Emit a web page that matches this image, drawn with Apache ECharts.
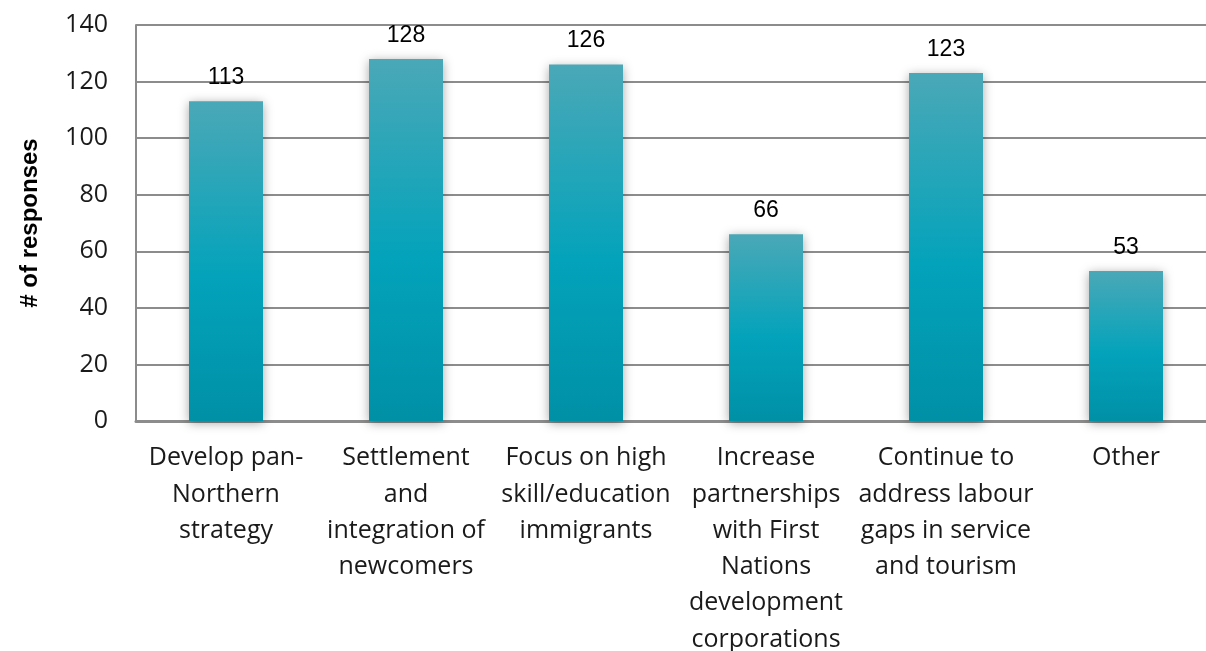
<!DOCTYPE html>
<html>
<head>
<meta charset="utf-8">
<script src="https://cdn.jsdelivr.net/npm/echarts@6/dist/echarts.min.js"></script>
<style>
  html, body { margin: 0; padding: 0; background: #ffffff; }
  #chart { width: 1206px; height: 651px; }
</style>
</head>
<body>
<div id="chart"></div>
<script>
// Survey answers: suggested priorities, counted by number of responses
const categories = [
  'Develop pan-\nNorthern\nstrategy',
  'Settlement\nand\nintegration of\nnewcomers',
  'Focus on high\nskill/education\nimmigrants',
  'Increase\npartnerships\nwith First\nNations\ndevelopment\ncorporations',
  'Continue to\naddress labour\ngaps in service\nand tourism',
  'Other'
];
const responses = [113, 128, 126, 66, 123, 53];
const yTicks = { min: 0, max: 140, interval: 20 };
const yAxisTitle = '# of responses';

const chart = echarts.init(document.getElementById('chart'));

const barFill = new echarts.graphic.LinearGradient(0, 0, 0, 1, [
  { offset: 0, color: '#4aa8b7' },
  { offset: 0.55, color: '#03a3bb' },
  { offset: 1, color: '#0090a6' }
]);

chart.setOption({
  animation: false,
  grid: {
    left: 136, top: 25, bottom: 230, right: -10,
    containLabel: false,
    outerBoundsMode: 'none'
  },
  xAxis: {
    type: 'category',
    data: categories,
    axisTick: { show: false },
    axisLine: { show: true, lineStyle: { color: '#8c8c8c', width: 3 } },
    axisLabel: {
      interval: 0,
      margin: 19,
      color: '#1a1a1a',
      fontFamily: 'Open Sans',
      fontSize: 25,
      lineHeight: 36.3
    }
  },
  yAxis: {
    type: 'value',
    min: yTicks.min,
    max: yTicks.max,
    interval: yTicks.interval,
    name: yAxisTitle,
    nameLocation: 'middle',
    nameGap: 94,
    nameRotate: 90,
    nameTextStyle: {
      color: '#000000',
      fontFamily: 'Liberation Sans',
      fontWeight: 'bold',
      fontSize: 24
    },
    axisLine: { show: true, lineStyle: { color: '#8c8c8c', width: 2 } },
    axisTick: { show: false },
    splitLine: { show: true, lineStyle: { color: '#8c8c8c', width: 2 } },
    axisLabel: {
      margin: 28,
      color: '#1a1a1a',
      fontFamily: 'Open Sans',
      fontSize: 25
    }
  },
  series: [{
    type: 'bar',
    data: responses,
    barWidth: 74,
    itemStyle: {
      color: barFill,
      shadowColor: 'rgba(0,0,0,0.35)',
      shadowBlur: 10,
      shadowOffsetX: 0,
      shadowOffsetY: 2
    },
    label: {
      show: true,
      position: 'top',
      distance: 12,
      color: '#000000',
      fontFamily: 'Liberation Sans',
      fontSize: 23
    }
  }]
});
</script>
</body>
</html>
